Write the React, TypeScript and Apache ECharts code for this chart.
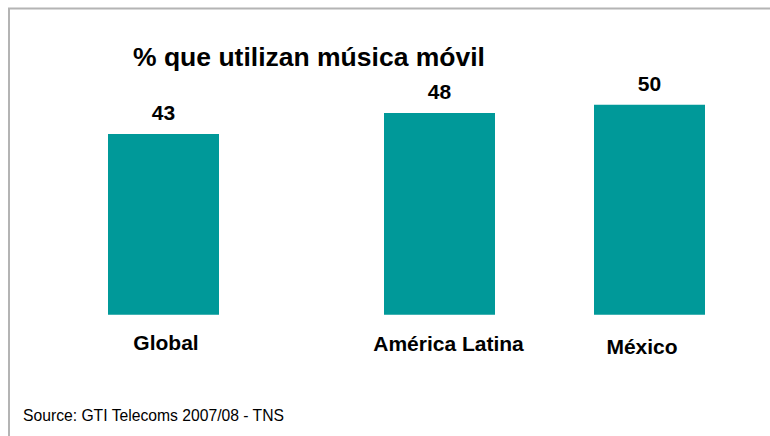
import React, { useEffect, useRef } from "react";
import * as echarts from "echarts";

const categories = ["Global", "América Latina", "México"];
const values = [43, 48, 50];
const titleText = "% que utilizan música móvil";
const sourceText = "Source: GTI Telecoms 2007/08 - TNS";

const FONT = "'Liberation Sans', Arial, Helvetica, sans-serif";
const BAR_COLOR = "#009999";

// layout per bar (grid placement)
const gridLefts = [108, 384, 594];
const gridWidth = 111;
const labelMargins = [17, 18, 21];
const labelShift = [2.5, 9, -7.5];

export default function App() {
  const ref = useRef<HTMLDivElement>(null);
  useEffect(() => {
    if (!ref.current) return;
    const chart = echarts.init(ref.current, null, { renderer: "svg" });
    const grids = categories.map((_, i) => ({
      left: gridLefts[i],
      width: gridWidth,
      top: 62.7,
      bottom: 121.3,
      containLabel: false,
    }));
    const xAxes = categories.map((c, i) => {
      const s = labelShift[i];
      return {
        type: "category",
        gridIndex: i,
        data: [c],
        axisLine: { show: false },
        axisTick: { show: false },
        axisLabel: {
          margin: labelMargins[i],
          fontFamily: FONT,
          fontSize: 21,
          fontWeight: "bold",
          color: "#000",
          padding: s >= 0 ? [0, 0, 0, 2 * s] : [0, -2 * s, 0, 0],
        },
      };
    });
    const yAxes = categories.map((_, i) => ({
      type: "value",
      gridIndex: i,
      min: 0,
      max: 60,
      show: false,
      splitLine: { show: false },
    }));
    const series = categories.map((_, i) => ({
      type: "bar",
      xAxisIndex: i,
      yAxisIndex: i,
      data: [values[i]],
      barWidth: "100%",
      itemStyle: { color: BAR_COLOR },
      label: {
        show: true,
        position: "top",
        distance: 11,
        fontFamily: FONT,
        fontSize: 21,
        fontWeight: "bold",
        color: "#000",
      },
    }));
    chart.setOption({
      animation: false,
      backgroundColor: "#ffffff",
      title: {
        text: titleText,
        left: 133,
        top: 43,
        padding: 0,
        textStyle: {
          fontFamily: FONT,
          fontSize: 26.5,
          fontWeight: "bold",
          color: "#000",
        },
      },
      grid: grids,
      xAxis: xAxes,
      yAxis: yAxes,
      series,
      graphic: [
        {
          type: "line",
          shape: { x1: 8, y1: 8.5, x2: 770, y2: 8.5 },
          style: { stroke: "#b4b4b4", lineWidth: 2 },
        },
        {
          type: "line",
          shape: { x1: 9, y1: 8, x2: 9, y2: 436 },
          style: { stroke: "#b4b4b4", lineWidth: 2 },
        },
        {
          type: "text",
          left: 23,
          top: 407,
          style: {
            text: sourceText,
            font: `15.7px ${FONT}`,
            fill: "#000",
          },
        },
      ],
    });
    return () => chart.dispose();
  }, []);
  return (
    <div
      ref={ref}
      style={{ position: "fixed", left: 0, top: 0, width: 770, height: 436 }}
    />
  );
}
